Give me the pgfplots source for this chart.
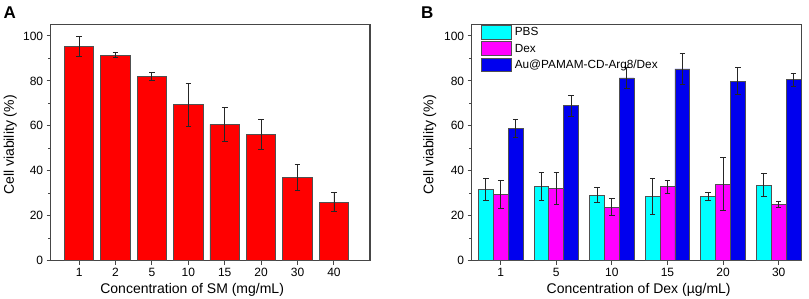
\documentclass[border=0pt]{standalone}
\usepackage{fontspec}
\setmainfont{Liberation Sans}
\usepackage{pgfplots}
\pgfplotsset{compat=1.18}
\definecolor{cRed}{RGB}{255,0,0}
\definecolor{cCyan}{RGB}{0,255,255}
\definecolor{cMag}{RGB}{255,0,255}
\definecolor{cBlue}{RGB}{0,0,238}
\definecolor{axgray}{RGB}{70,70,70}
\definecolor{edgegray}{RGB}{80,80,80}
\pgfplotsset{
  panel/.style={
    scale only axis, height=236pt,
    ymin=0, ymax=105, ytick={0,20,...,100}, minor y tick num=1,
    tick pos=left, tick align=outside,
    major tick length=4pt, minor tick length=2.5pt,
    axis line style={axgray, line width=1.1pt},
    tick style={axgray, line width=1pt},
    ticklabel style={font=\fontsize{12}{14}\selectfont},
    /pgf/number format/assume math mode=true,
    label style={font=\fontsize{14}{16}\selectfont},
    ybar, bar shift=0pt,
    error bars/error bar style={black!85, line width=0.9pt},
    error bars/error mark options={rotate=90, mark size=2.8pt, black!85, line width=0.9pt},
  },
  bars/.style={draw=edgegray, line width=0.8pt, fill=#1},
}
\begin{document}
\begin{tikzpicture}
\path[use as bounding box] (0,0) rectangle (809pt,299pt);
% Panel A
\begin{axis}[panel, at={(50.7pt,38.3pt)}, anchor=south west, width=319.3pt,
  xmin=0.22, xmax=8.99, bar width=0.81,
  xtick={1,...,8}, xticklabels={1,2,5,10,15,20,30,40},
  xlabel={Concentration of SM (mg/mL)},
  ylabel={Cell viability (\%)},
  xlabel style={at={(rel axis cs:0.443,-0.141)}, anchor=base},
  ylabel style={at={(rel axis cs:-0.115,0.49)}, anchor=base, rotate=0},
]
\addplot[bars=cRed, error bars/.cd, y dir=both, y explicit] coordinates {
(1,95.3) +- (0,4.6)
(2,91.5) +- (0,1.05)
(3,82.1) +- (0,1.7)
(4,69.4) +- (0,9.5)
(5,60.6) +- (0,7.5)
(6,56.3) +- (0,6.6)
(7,37.1) +- (0,5.85)
(8,26.1) +- (0,4.4)
};
\end{axis}
% Panel B
\begin{axis}[panel, at={(471.7pt,38.3pt)}, anchor=south west, width=330pt,
  xmin=0.478, xmax=6.414, bar width=0.267,
  xtick={1,...,6}, xticklabels={1,5,10,15,20,30},
  xlabel={Concentration of Dex (µg/mL)},
  ylabel={Cell viability (\%)},
  xlabel style={at={(rel axis cs:0.506,-0.141)}, anchor=base},
  ylabel style={at={(rel axis cs:-0.116,0.49)}, anchor=base, rotate=0},
  legend image code/.code={\draw[#1, line width=0.8pt] (0pt,-6.8pt) rectangle (29.7pt,6.8pt);},
  legend style={at={(rel axis cs:0,1)}, anchor=north west, xshift=9.3pt, yshift=-0.7pt,
    draw=none, fill=none, inner sep=0pt, outer sep=0pt, row sep=1.7pt, column sep=3.3pt,
    font=\fontsize{11.8}{13}\selectfont, nodes={inner sep=0pt}},
  legend cell align=left,
]
\addplot[bars=cCyan, error bars/.cd, y dir=both, y explicit] coordinates {
(0.733,31.8) +- (0,5.0)
(1.733,33.0) +- (0,6.4)
(2.733,29.2) +- (0,3.4)
(3.733,28.4) +- (0,8.0)
(4.733,28.7) +- (0,1.7)
(5.733,33.6) +- (0,5.0)
};
\addlegendentry{PBS}
\addplot[bars=cMag, error bars/.cd, y dir=both, y explicit] coordinates {
(1,29.6) +- (0,6.2)
(2,32.3) +- (0,7.1)
(3,23.8) +- (0,3.7)
(4,33.0) +- (0,2.9)
(5,34.1) +- (0,11.7)
(6,25.1) +- (0,1.3)
};
\addlegendentry{Dex}
\addplot[bars=cBlue, error bars/.cd, y dir=both, y explicit] coordinates {
(1.267,58.8) +- (0,3.9)
(2.267,68.9) +- (0,4.7)
(3.267,81.3) +- (0,4.8)
(4.267,85.3) +- (0,6.8)
(5.267,79.8) +- (0,6.0)
(6.267,80.5) +- (0,3.0)
};
\addlegendentry{Au@PAMAM-CD-Arg8/Dex}
\end{axis}
\node[anchor=base west, inner sep=0pt, font=\fontsize{17}{19}\selectfont\bfseries] at (3.5pt,280.7pt) {A};
\node[anchor=base west, inner sep=0pt, font=\fontsize{17}{19}\selectfont\bfseries] at (421pt,280.7pt) {B};
\end{tikzpicture}
\end{document}
